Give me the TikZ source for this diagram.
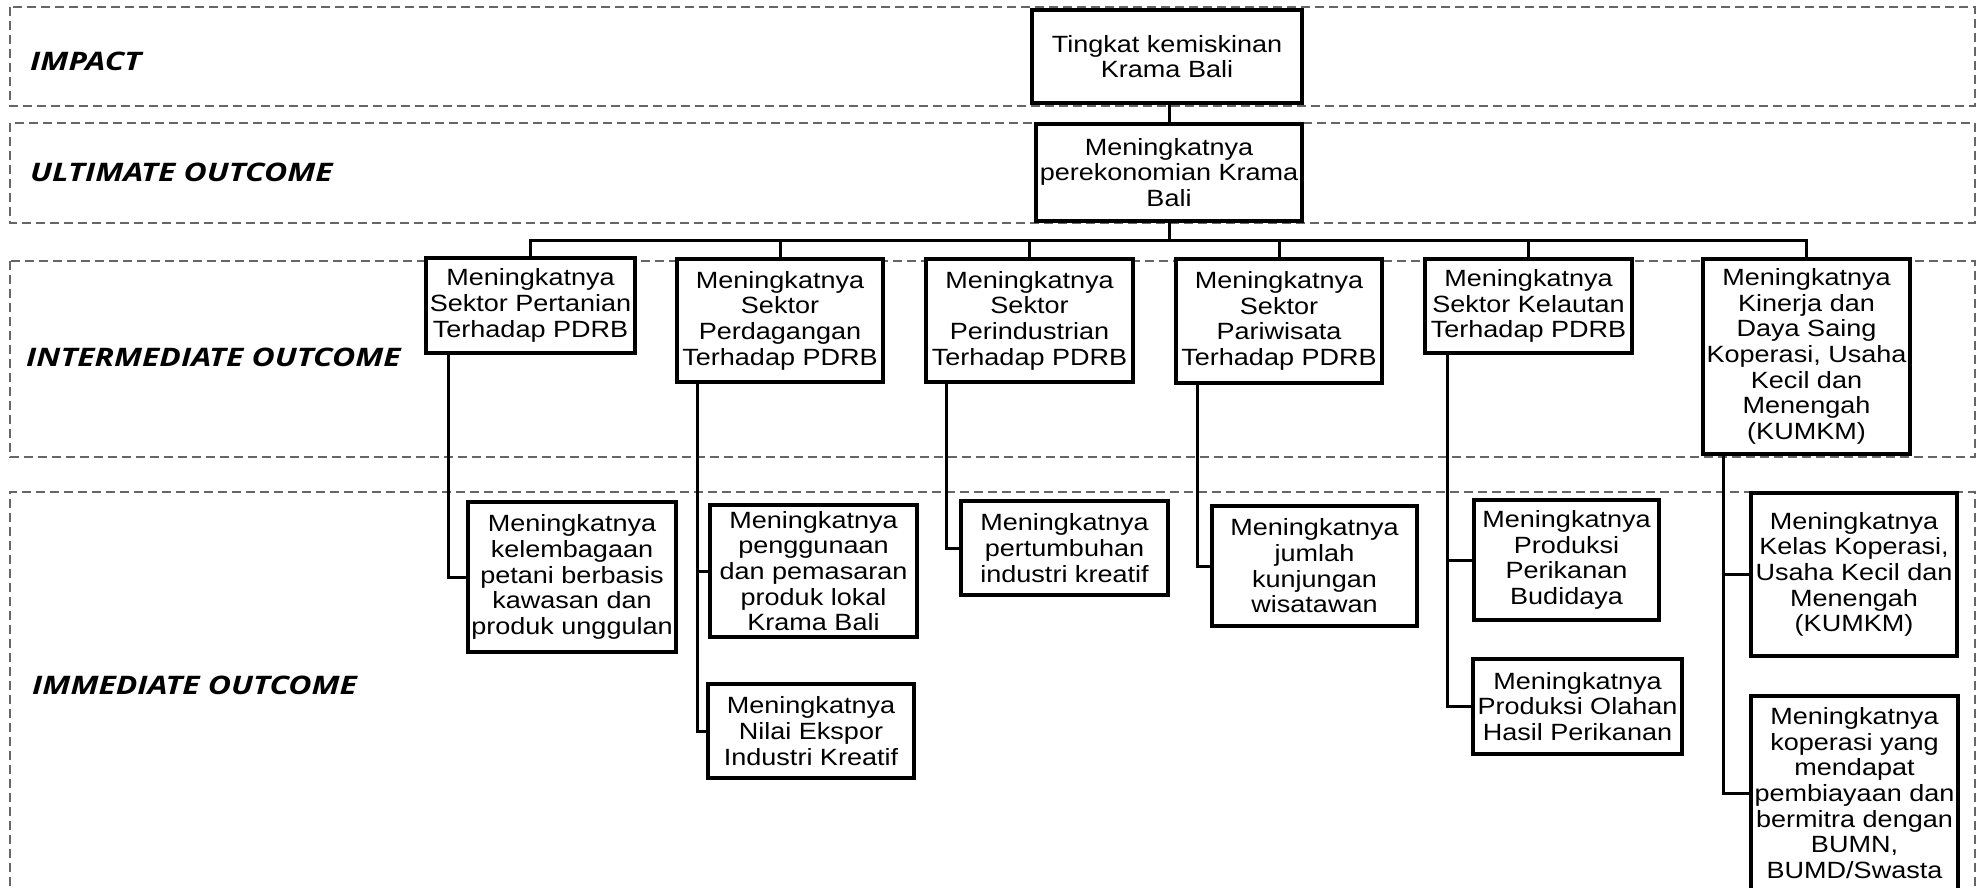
\documentclass[tikz,border=0pt]{standalone}
\usepackage{fontspec}
\newfontfamily\boxfont[FakeStretch=1.15]{Liberation Sans}
\newfontfamily\tierfont[FakeStretch=1.25]{Open Sans}
\begin{document}
\begin{tikzpicture}[x=1pt,y=-1pt,
  tierband/.style={draw=black!60, line width=1.2pt, dash pattern=on 9pt off 5pt},
  tierlabel/.style={anchor=west, inner sep=0pt, font=\tierfont\bfseries\itshape\fontsize{25.5}{28}\selectfont},
  resultbox/.style={draw=black, line width=3.2pt, align=center, inner sep=0pt, outer sep=0pt,
    fill=white, text=black, font=\boxfont\fontsize{23.5}{25.7}\selectfont},
  link/.style={draw=black, line width=3pt}
]
\useasboundingbox (0,0) rectangle (1977,887);

% tier bands
\draw[tierband] (10,7) rectangle (1975,106);
\draw[tierband] (10,123) rectangle (1975,223);
\draw[tierband] (10,261) rectangle (1975,457);
\draw[tierband] (1975,900) -- (1975,492) -- (10,492) -- (10,900);

\node[tierlabel] (tImpact) at (30,61) {IMPACT};
\node[tierlabel] (tUltimate) at (30,172) {ULTIMATE OUTCOME};
\node[tierlabel] (tInter) at (26,357) {INTERMEDIATE OUTCOME};
\node[tierlabel] (tImmed) at (32,685) {IMMEDIATE OUTCOME};

% impact and ultimate outcome
\node[resultbox, minimum width=270pt, minimum height=93pt] (A1) at (1167,56.5)
  {Tingkat kemiskinan\\Krama Bali};
\node[resultbox, minimum width=266pt, minimum height=97pt] (A2) at (1169,172.5)
  {Meningkatnya\\perekonomian Krama\\Bali};

% intermediate outcomes
\node[resultbox, minimum width=209pt, minimum height=95pt] (B1) at (530.5,305.5)
  {Meningkatnya\\Sektor Pertanian\\Terhadap PDRB};
\node[resultbox, minimum width=206pt, minimum height=123pt] (B2) at (780,320.5)
  {Meningkatnya\\Sektor\\Perdagangan\\Terhadap PDRB};
\node[resultbox, minimum width=207pt, minimum height=123pt] (B3) at (1029.5,320.5)
  {Meningkatnya\\Sektor\\Perindustrian\\Terhadap PDRB};
\node[resultbox, minimum width=206pt, minimum height=124pt] (B4) at (1279,321)
  {Meningkatnya\\Sektor\\Pariwisata\\Terhadap PDRB};
\node[resultbox, minimum width=207pt, minimum height=94pt] (B5) at (1528.5,306)
  {Meningkatnya\\Sektor Kelautan\\Terhadap PDRB};
\node[resultbox, minimum width=207pt, minimum height=195pt] (B6) at (1806.5,356.5)
  {Meningkatnya\\Kinerja dan\\Daya Saing\\Koperasi, Usaha\\Kecil dan\\Menengah\\(KUMKM)};

% immediate outcomes
\node[resultbox, minimum width=208pt, minimum height=150pt] (C1) at (572,577)
  {Meningkatnya\\kelembagaan\\petani berbasis\\kawasan dan\\produk unggulan};
\node[resultbox, minimum width=207pt, minimum height=132pt] (C2a) at (813.5,571)
  {Meningkatnya\\penggunaan\\dan pemasaran\\produk lokal\\Krama Bali};
\node[resultbox, minimum width=206pt, minimum height=94pt] (C2b) at (811,731)
  {Meningkatnya\\Nilai Ekspor\\Industri Kreatif};
\node[resultbox, minimum width=207pt, minimum height=94pt] (C3) at (1064.5,548)
  {Meningkatnya\\pertumbuhan\\industri kreatif};
\node[resultbox, minimum width=205pt, minimum height=120pt] (C4) at (1314.5,566)
  {Meningkatnya\\jumlah\\kunjungan\\wisatawan};
\node[resultbox, minimum width=185pt, minimum height=120pt] (C5a) at (1566.5,560)
  {Meningkatnya\\Produksi\\Perikanan\\Budidaya};
\node[resultbox, minimum width=209pt, minimum height=95pt] (C5b) at (1577.5,706.5)
  {Meningkatnya\\Produksi Olahan\\Hasil Perikanan};
\node[resultbox, minimum width=206pt, minimum height=163pt] (C6a) at (1854,574.5)
  {Meningkatnya\\Kelas Koperasi,\\Usaha Kecil dan\\Menengah\\(KUMKM)};
\node[resultbox, minimum width=207pt, minimum height=194pt] (C6b) at (1854.5,793)
  {Meningkatnya\\koperasi yang\\mendapat\\pembiayaan dan\\bermitra dengan\\BUMN,\\BUMD/Swasta};

% tree connectors
\coordinate (bus) at (0,240);
\draw[link] (A1.south -| A2.north) -- (A2.north);
\draw[link] (A2.south) -- (A2.south |- bus);
\draw[link] (B1.north) |- (bus -| B6.north) -- (B6.north);
\foreach \b in {B2,B3,B4,B5} \draw[link] (\b.north) -- (\b.north |- bus);

% branches down to immediate outcomes
\draw[link] ([xshift=22pt]B1.south west) |- (C1.west);
\draw[link] ([xshift=20pt]B2.south west) |- (C2b.west);
\draw[link] ([xshift=20pt]B2.south west |- C2a.west) -- (C2a.west);
\draw[link] ([xshift=20pt]B3.south west) |- (C3.west);
\draw[link] ([xshift=21pt]B4.south west) |- (C4.west);
\draw[link] ([xshift=22pt]B5.south west) |- (C5b.west);
\draw[link] ([xshift=22pt]B5.south west |- C5a.west) -- (C5a.west);
\draw[link] ([xshift=20pt]B6.south west) |- (C6b.west);
\draw[link] ([xshift=20pt]B6.south west |- C6a.west) -- (C6a.west);
\end{tikzpicture}
\end{document}
